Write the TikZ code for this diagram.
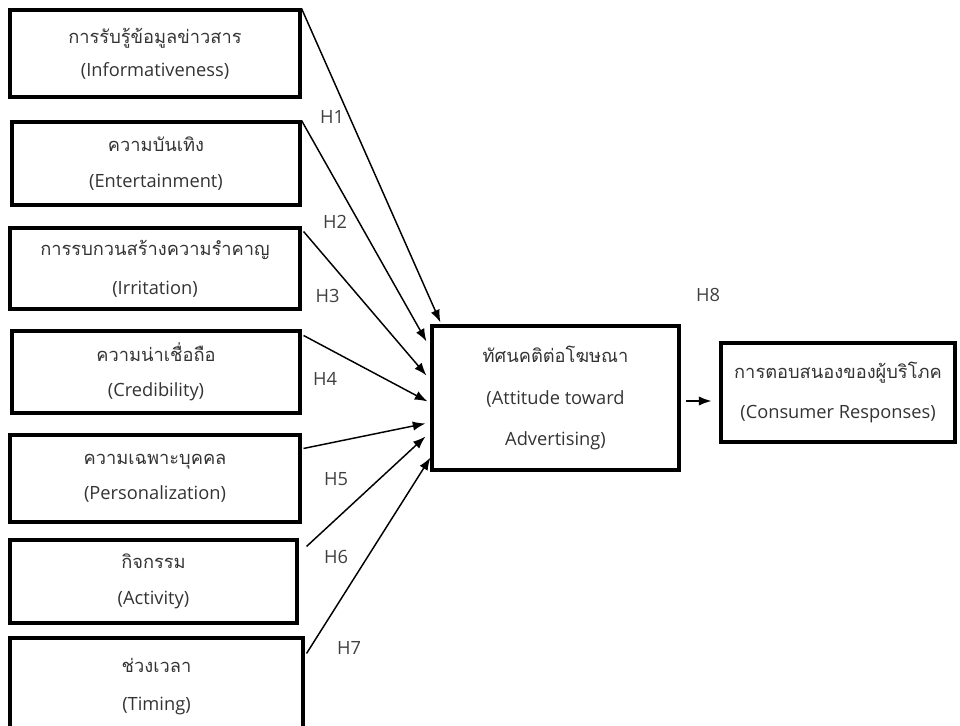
\documentclass[tikz,border=0pt]{standalone}
\usepackage{fontspec}
\setmainfont{Open Sans}
\newfontfamily\thaifont[Script=Thai]{Loma}
\usetikzlibrary{arrows.meta}

\begin{document}
\begin{tikzpicture}[x=0.75pt, y=-0.75pt,
  font=\fontsize{13.7}{27}\selectfont,
  factor/.style={draw, line width=2.3pt, align=center, inner sep=0pt, text=black!80},
  hyparrow/.style={-{Latex[length=9.5pt,width=7pt]}, line width=1.1pt},
  hyp/.style={text=black!75}]
  \useasboundingbox (0,0) rectangle (960,725);
  \node[factor, minimum width=217.5pt, minimum height=65.25pt] (info) at (155,53.5)
    {{\thaifont การรับรู้ข้อมูลข่าวสาร}\\[-2pt](Informativeness)};
  \node[factor, minimum width=216pt, minimum height=62.25pt] (ent) at (156,163.5)
    {{\thaifont ความบันเทิง}\\(Entertainment)};
  \node[factor, minimum width=217.5pt, minimum height=60.75pt] (irr) at (155,268.5)
    {{\thaifont การรบกวนสร้างความรำคาญ}\\[2pt](Irritation)};
  \node[factor, minimum width=216pt, minimum height=61.5pt] (cred) at (156,372)
    {{\thaifont ความน่าเชื่อถือ}\\[-1pt](Credibility)};
  \node[factor, minimum width=217.5pt, minimum height=65.25pt] (pers) at (155,478.5)
    {{\thaifont ความเฉพาะบุคคล}\\[-1pt](Personalization)};
  \node[factor, minimum width=215.25pt, minimum height=62.25pt] (act) at (153.5,581.5)
    {{\thaifont กิจกรรม}\\(Activity)};
  \node[factor, minimum width=219.75pt, minimum height=72.75pt] (tim) at (156.5,686.5)
    {{\thaifont ช่วงเวลา}\\[2pt](Timing)};
  \node[factor, minimum width=185.25pt, minimum height=108pt] (att) at (555.5,398)
    {{\thaifont ทัศนคติต่อโฆษณา}\\[4pt](Attitude toward\\[4pt]Advertising)};
  \node[factor, minimum width=175.5pt, minimum height=74.25pt] (resp) at (838,392.5)
    {{\thaifont การตอบสนองของผู้บริโภค}\\[3pt](Consumer Responses)};
  % arrow ends on the attitude box
  \coordinate (in1) at ([shift={(10,-2)}]att.north west);
  \coordinate (in2) at ([shift={(-4,17)}]att.north west);
  \coordinate (in3) at ([shift={(-4,51)}]att.north west);
  \coordinate (in4) at ([shift={(-3,77)}]att.north west);
  \coordinate (in5) at ([shift={(-5,99)}]att.north west);
  \coordinate (in6) at ([shift={(-5,112)}]att.north west);
  \coordinate (in7) at ([shift={(0,133)}]att.north west);
  \draw[hyparrow] (info.north east) -- (in1);
  \draw[hyparrow] (ent.north east) -- (in2);
  \draw[hyparrow] ([xshift=1.5pt,yshift=-3.75pt]irr.north east) -- (in3);
  \draw[hyparrow] ([xshift=1.5pt,yshift=-4.5pt]cred.north east) -- (in4);
  \draw[hyparrow] ([xshift=1.5pt,yshift=-11.25pt]pers.north east) -- (in5);
  \draw[hyparrow] ([xshift=6pt,yshift=-6pt]act.north east) -- (in6);
  \draw[hyparrow] ([xshift=1.5pt,yshift=-12.75pt]tim.north east) -- (in7);
  \coordinate (out) at ([xshift=4pt,yshift=-2.25pt]att.east);
  \draw[hyparrow] (out) -- ([xshift=-6pt]resp.west |- out);
  \node[hyp] (h1) at (332,117) {H1};
  \node[hyp] (h2) at (335,222) {H2};
  \node[hyp] (h3) at (327.5,296) {H3};
  \node[hyp] (h4) at (325,379) {H4};
  \node[hyp] (h5) at (336,479) {H5};
  \node[hyp] (h6) at (336,557) {H6};
  \node[hyp] (h7) at (349,648) {H7};
  \node[hyp] (h8) at (708,295) {H8};
\end{tikzpicture}
\end{document}
